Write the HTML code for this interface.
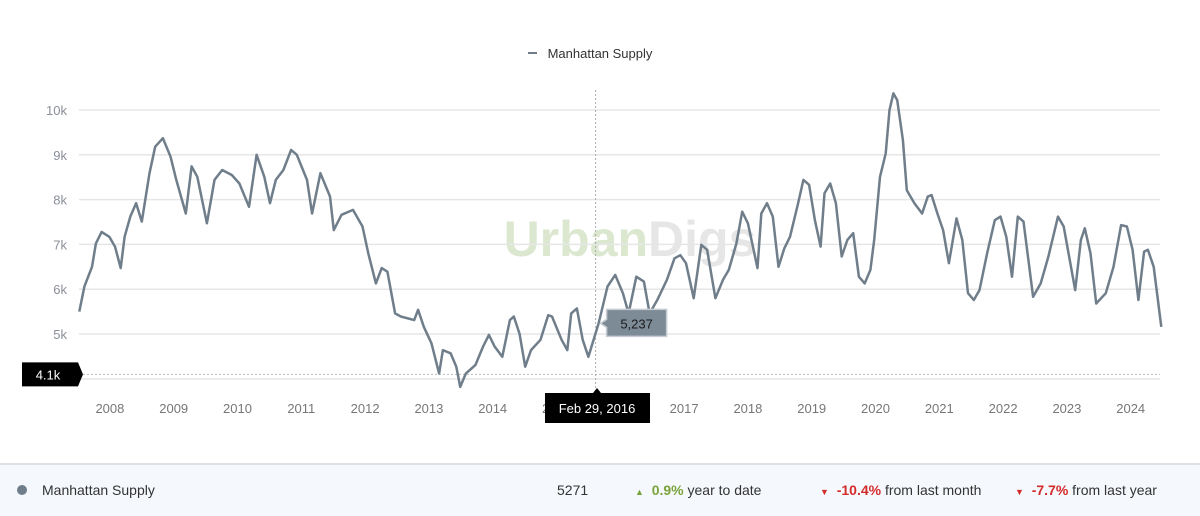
<!DOCTYPE html>
<html><head><meta charset="utf-8"><style>
body{margin:0;width:1200px;height:514px;background:#fff;font-family:"Liberation Sans",sans-serif;overflow:hidden;position:relative}
#foot{position:absolute;left:0;top:463px;width:1200px;height:51px;background:#f5f8fc;border-top:2px solid #dde1e6;font-size:14px;color:#333}
#foot span{position:absolute;top:17px;white-space:nowrap}
</style></head><body>
<svg id="chart" width="1200" height="463" style="position:absolute;left:0;top:0" xmlns="http://www.w3.org/2000/svg" font-family="Liberation Sans, sans-serif"></svg>
<div id="foot">
<span style="left:17px;top:20px;width:10px;height:10px;border-radius:5px;background:#6f7e8a"></span>
<span style="left:42px">Manhattan Supply</span>
<span style="left:557px">5271</span>
<span style="left:635px"><b style="color:#7aa33b;font-size:9px">▲</b>&nbsp; <b style="color:#7aa33b">0.9%</b> year to date</span>
<span style="left:820px"><b style="color:#d42b2b;font-size:9px">▼</b>&nbsp; <b style="color:#d42b2b">-10.4%</b> from last month</span>
<span style="left:1015px"><b style="color:#d42b2b;font-size:9px">▼</b>&nbsp; <b style="color:#d42b2b">-7.7%</b> from last year</span>
</div>
<script>
const yTicks=[5,6,7,8,9,10];
const xYears=[2008,2009,2010,2011,2012,2013,2014,2015,2016,2017,2018,2019,2020,2021,2022,2023,2024];
const dates=[2008.02,2008.10,2008.22,2008.28,2008.37,2008.49,2008.58,2008.67,2008.73,2008.82,2008.91,2009.00,2009.12,2009.21,2009.33,2009.45,2009.54,2009.69,2009.78,2009.87,2010.02,2010.14,2010.26,2010.41,2010.53,2010.68,2010.80,2010.92,2011.01,2011.10,2011.22,2011.34,2011.43,2011.59,2011.67,2011.80,2011.95,2012.01,2012.13,2012.31,2012.46,2012.55,2012.67,2012.76,2012.85,2012.97,2013.06,2013.27,2013.33,2013.42,2013.54,2013.66,2013.72,2013.84,2013.93,2013.99,2014.08,2014.23,2014.35,2014.44,2014.53,2014.65,2014.77,2014.83,2014.92,2015.01,2015.10,2015.25,2015.37,2015.43,2015.58,2015.67,2015.73,2015.82,2015.91,2016.00,2016.16,
2016.30,2016.42,2016.54,2016.63,2016.75,2016.87,2016.96,2017.08,2017.23,2017.35,2017.44,2017.53,2017.65,2017.77,2017.86,2017.99,2018.11,2018.20,2018.32,2018.41,2018.50,2018.65,2018.71,2018.80,2018.89,2018.98,2019.07,2019.16,2019.28,2019.37,2019.46,2019.55,2019.64,2019.70,2019.79,2019.88,2019.97,2020.06,2020.15,2020.24,2020.33,2020.42,2020.48,2020.57,2020.66,2020.72,2020.78,2020.84,2020.93,2020.99,2021.11,2021.23,2021.32,2021.38,2021.47,2021.56,2021.65,2021.77,2021.86,2021.95,2022.04,2022.13,2022.25,2022.37,2022.46,2022.55,2022.64,2022.73,2022.82,2022.97,2023.09,2023.21,2023.36,2023.45,2023.63,2023.72,2023.78,2023.87,2023.96,2024.11,2024.23,2024.35,2024.44,2024.53,2024.62,2024.71,2024.77,2024.86,2024.98];
const supply=[5.50,6.06,6.50,7.02,7.28,7.17,6.95,6.47,7.17,7.62,7.92,7.51,8.59,9.18,9.37,8.96,8.44,7.69,8.74,8.51,7.47,8.44,8.66,8.55,8.36,7.84,9.00,8.51,7.92,8.44,8.66,9.11,9.00,8.44,7.69,8.59,8.07,7.32,7.66,7.77,7.40,6.80,6.13,6.47,6.39,5.46,5.39,5.31,5.54,5.16,4.79,4.12,4.64,4.57,4.27,3.82,4.12,4.31,4.72,4.98,4.72,4.49,5.31,5.39,5.01,4.27,4.64,4.87,5.42,5.39,4.87,4.64,5.46,5.57,4.87,4.49,5.237,
6.06,6.32,5.91,5.46,6.28,6.17,5.46,5.76,6.21,6.69,6.76,6.58,5.80,6.99,6.88,5.80,6.21,6.43,7.02,7.73,7.47,6.47,7.69,7.92,7.62,6.50,6.91,7.17,7.88,8.44,8.33,7.54,6.95,8.14,8.36,7.92,6.73,7.10,7.25,6.28,6.13,6.43,7.10,8.51,9.03,10.0,10.37,10.22,9.33,8.21,7.92,7.69,8.07,8.10,7.69,7.32,6.58,7.58,7.10,5.91,5.76,5.98,6.80,7.54,7.62,7.17,6.28,7.62,7.51,5.83,6.13,6.73,7.62,7.40,5.98,7.10,7.36,6.80,5.68,5.91,6.50,7.43,7.40,6.88,5.76,6.84,6.88,6.50,5.16];
const hoverDate=2016.16, hoverValue=5.237, hoverLabel="5,237", dateLabel="Feb 29, 2016", minLevel=4.1;

const svg=document.getElementById('chart');
const NS='http://www.w3.org/2000/svg';
const L=79,R=1160;
const x=t=>78+(t-2008)*63.8;
const y=v=>110+(10-v)*44.8;
function mk(tag,attrs,txt){const e=document.createElementNS(NS,tag);for(const k in attrs)e.setAttribute(k,attrs[k]);if(txt!==undefined)e.textContent=txt;svg.appendChild(e);return e;}

let e=mk('text',{x:600,y:58,'text-anchor':'middle','font-size':13,fill:'#333'},'Manhattan Supply');


e=mk('line',{x1:528,x2:537,y1:53,y2:53,stroke:'#6f7e8a','stroke-width':2});



e=mk('text',{x:630,y:256,'text-anchor':'middle','font-size':50,'font-weight':'bold'});


const t1=document.createElementNS(NS,'tspan');t1.textContent='Urban';t1.setAttribute('fill','#dbe8cf');e.appendChild(t1);
const t2=document.createElementNS(NS,'tspan');t2.textContent='Digs';t2.setAttribute('fill','#e6e6e6');e.appendChild(t2);

yTicks.forEach(v=>{
  let g=mk('line',{x1:L,x2:R,y1:y(v),y2:y(v),stroke:'#e6e6e6','stroke-width':1.5});
  
  
  let t=mk('text',{x:67,y:y(v)+5,'text-anchor':'end','font-size':13,fill:'#8a8f99'},v+'k');
  
  
});
e=mk('line',{x1:L,x2:R,y1:379,y2:379,stroke:'#e6e6e6','stroke-width':1.5});


xYears.forEach(yr=>{
  let t=mk('text',{x:x(yr+0.5),y:413,'text-anchor':'middle','font-size':13,fill:'#777'},String(yr));
  
  
});

e=mk('line',{x1:L,x2:R,y1:y(minLevel),y2:y(minLevel),stroke:'#bbb','stroke-dasharray':'2,2'});


e=mk('line',{x1:x(hoverDate)-3,x2:x(hoverDate)-3,y1:90,y2:392,stroke:'#aaa','stroke-dasharray':'2,2'});



let d=dates.map((t,i)=>(i?'L':'M')+x(t).toFixed(1)+','+y(supply[i]).toFixed(1)).join('');
e=mk('path',{d:d,fill:'none',stroke:'#6f7e8a','stroke-width':2.5,'stroke-linejoin':'round'});



const yl=y(minLevel);
e=mk('path',{d:`M22,${yl-12}H78L83,${yl}L78,${yl+12}H22Z`,fill:'#000'});


e=mk('text',{x:48,y:yl+5,'text-anchor':'middle','font-size':13,fill:'#fff'},'4.1k');



const hx=x(hoverDate),hy=y(hoverValue);
e=mk('path',{d:`M${hx+8},${hy-14}H${hx+68}V${hy+13}H${hx+8}V${hy+4}L${hx+2},${hy}L${hx+8},${hy-4}Z`,fill:'#7d8b97',stroke:'#c6ccd2','stroke-width':1.5});


e=mk('text',{x:hx+38,y:hy+5,'text-anchor':'middle','font-size':13,fill:'#1a1a1a'},hoverLabel);



e=mk('path',{d:`M545,393H593L597,388L601,393H650V423H545Z`,fill:'#000'});


e=mk('text',{x:597,y:413,'text-anchor':'middle','font-size':13,fill:'#fff'},dateLabel);


</script>
</body></html>
